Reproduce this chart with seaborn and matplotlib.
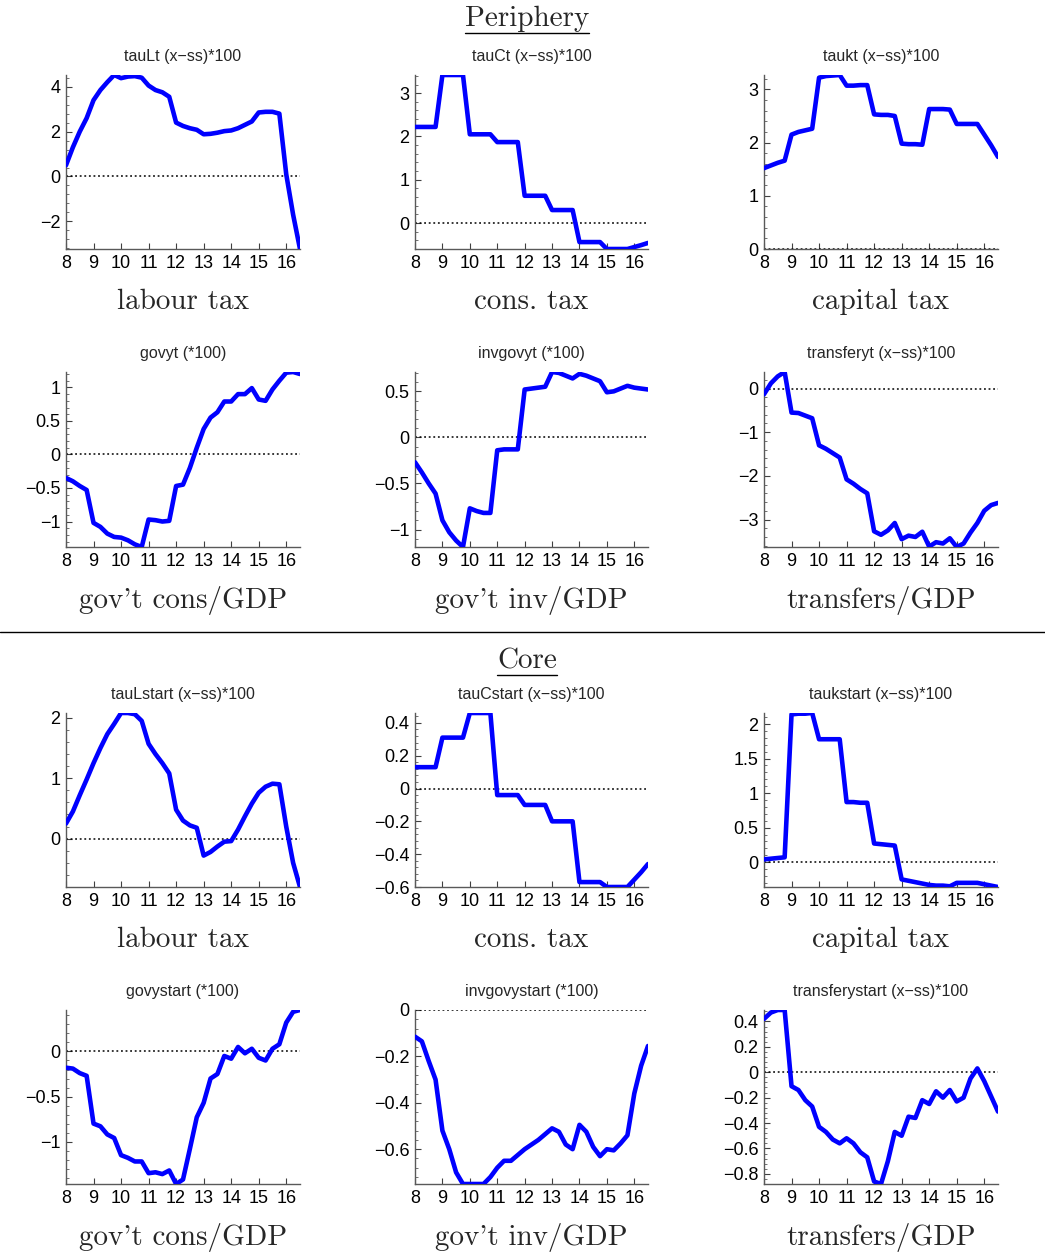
import numpy as np
import pandas as pd
import matplotlib
matplotlib.use("Agg")
import matplotlib.pyplot as plt
import seaborn as sns
from matplotlib.lines import Line2D
from matplotlib.ticker import AutoMinorLocator, FuncFormatter, FixedLocator

# quarterly time axis, 2008 Q1 .. 2016 Q3
quarters = np.arange(8, 16.51, 0.25)

# ---------------- Periphery ----------------
tauLt = [0.5, 1.3, 2.0, 2.6, 3.4, 3.85, 4.2, 4.52, 4.38, 4.45, 4.47, 4.4,
         4.05, 3.85, 3.75, 3.55, 2.4, 2.25, 2.15, 2.08, 1.88, 1.9, 1.95, 2.02,
         2.05, 2.15, 2.3, 2.45, 2.85, 2.88, 2.88, 2.8, 0.1, -1.7, -3.23]
tauCt = [2.22, 2.22, 2.22, 2.22, 3.42, 3.42, 3.42, 3.42, 2.05, 2.05, 2.05, 2.05,
         1.87, 1.87, 1.87, 1.87, 0.63, 0.63, 0.63, 0.63, 0.3, 0.3, 0.3, 0.3,
         -0.44, -0.44, -0.44, -0.44, -0.6, -0.6, -0.6, -0.6, -0.555, -0.51, -0.46]
taukt = [1.52, 1.57, 1.62, 1.66, 2.15, 2.2, 2.23, 2.26, 3.22, 3.25, 3.26, 3.27,
         3.07, 3.07, 3.08, 3.08, 2.53, 2.52, 2.52, 2.5, 1.98, 1.97, 1.97, 1.96,
         2.63, 2.63, 2.63, 2.62, 2.35, 2.35, 2.35, 2.35, 2.15, 1.95, 1.73]
govyt = [-0.35, -0.4, -0.47, -0.53, -1.02, -1.08, -1.18, -1.23, -1.24, -1.28,
         -1.34, -1.38, -0.97, -0.98, -1.0, -0.99, -0.47, -0.45, -0.2, 0.1, 0.38,
         0.55, 0.63, 0.79, 0.79, 0.9, 0.9, 0.99, 0.82, 0.8, 0.97, 1.1, 1.22, 1.23, 1.2]
invgovyt = [-0.27, -0.38, -0.5, -0.61, -0.9, -1.03, -1.12, -1.19, -0.77, -0.8,
            -0.82, -0.82, -0.14, -0.13, -0.13, -0.13, 0.52, 0.53, 0.54, 0.55, 0.71,
            0.7, 0.67, 0.64, 0.69, 0.67, 0.64, 0.61, 0.49, 0.5, 0.53, 0.56, 0.54,
            0.53, 0.52]
transferyt = [-0.13, 0.12, 0.28, 0.38, -0.55, -0.56, -0.62, -0.68, -1.3, -1.38,
              -1.48, -1.58, -2.08, -2.18, -2.3, -2.4, -3.27, -3.35, -3.25, -3.08,
              -3.45, -3.37, -3.4, -3.28, -3.62, -3.52, -3.55, -3.43, -3.63, -3.55,
              -3.3, -3.08, -2.8, -2.67, -2.62]

# ---------------- Core ----------------
tauLstart = [0.25, 0.45, 0.72, 0.98, 1.25, 1.5, 1.73, 1.9, 2.08, 2.08, 2.06, 1.95,
             1.57, 1.4, 1.25, 1.08, 0.48, 0.3, 0.22, 0.18, -0.28, -0.22, -0.13,
             -0.05, -0.04, 0.15, 0.37, 0.58, 0.76, 0.86, 0.91, 0.9, 0.2, -0.4, -0.8]
tauCstart = [0.13, 0.13, 0.13, 0.13, 0.31, 0.31, 0.31, 0.31, 0.46, 0.46, 0.46, 0.46,
             -0.04, -0.04, -0.04, -0.04, -0.1, -0.1, -0.1, -0.1, -0.2, -0.2, -0.2,
             -0.2, -0.57, -0.57, -0.57, -0.57, -0.6, -0.6, -0.6, -0.6, -0.555,
             -0.51, -0.46]
taukstart = [0.04, 0.05, 0.06, 0.07, 2.14, 2.15, 2.15, 2.16, 1.78, 1.78, 1.78, 1.78,
             0.87, 0.87, 0.86, 0.86, 0.27, 0.26, 0.25, 0.24, -0.25, -0.27, -0.29,
             -0.31, -0.33, -0.34, -0.34, -0.35, -0.3, -0.3, -0.3, -0.3, -0.32,
             -0.34, -0.36]
govystart = [-0.18, -0.19, -0.24, -0.27, -0.8, -0.83, -0.92, -0.96, -1.15, -1.18,
             -1.22, -1.22, -1.35, -1.34, -1.36, -1.32, -1.47, -1.42, -1.08, -0.73,
             -0.57, -0.3, -0.25, -0.05, -0.08, 0.05, -0.02, 0.03, -0.07, -0.1, 0.03,
             0.08, 0.32, 0.44, 0.46]
invgovystart = [-0.115, -0.135, -0.22, -0.3, -0.52, -0.6, -0.7, -0.75, -0.75, -0.75,
                -0.75, -0.72, -0.68, -0.65, -0.65, -0.625, -0.6, -0.58, -0.56,
                -0.535, -0.51, -0.525, -0.58, -0.6, -0.495, -0.525, -0.59, -0.63,
                -0.6, -0.605, -0.575, -0.54, -0.36, -0.24, -0.155]
transferystart = [0.42, 0.47, 0.49, 0.49, -0.11, -0.14, -0.22, -0.27, -0.43, -0.47,
                  -0.53, -0.56, -0.52, -0.56, -0.63, -0.67, -0.86, -0.88, -0.7,
                  -0.47, -0.5, -0.35, -0.36, -0.22, -0.25, -0.15, -0.2, -0.14, -0.23,
                  -0.2, -0.05, 0.03, -0.07, -0.19, -0.31]

x_ticks = list(range(8, 17))

panels = [
    ("tauLt (x\u2212ss)*100", "labour tax", tauLt, [-2, 0, 2, 4]),
    ("tauCt (x\u2212ss)*100", "cons. tax", tauCt, [0, 1, 2, 3]),
    ("taukt (x\u2212ss)*100", "capital tax", taukt, [0, 1, 2, 3]),
    ("govyt (*100)", "gov't cons/GDP", govyt, [-1, -0.5, 0, 0.5, 1]),
    ("invgovyt (*100)", "gov't inv/GDP", invgovyt, [-1, -0.5, 0, 0.5]),
    ("transferyt (x\u2212ss)*100", "transfers/GDP", transferyt, [-3, -2, -1, 0]),
    ("tauLstart (x\u2212ss)*100", "labour tax", tauLstart, [0, 1, 2]),
    ("tauCstart (x\u2212ss)*100", "cons. tax", tauCstart, [-0.6, -0.4, -0.2, 0, 0.2, 0.4]),
    ("taukstart (x\u2212ss)*100", "capital tax", taukstart, [0, 0.5, 1, 1.5, 2]),
    ("govystart (*100)", "gov't cons/GDP", govystart, [-1, -0.5, 0]),
    ("invgovystart (*100)", "gov't inv/GDP", invgovystart, [-0.6, -0.4, -0.2, 0]),
    ("transferystart (x\u2212ss)*100", "transfers/GDP", transferystart,
     [-0.8, -0.6, -0.4, -0.2, 0, 0.2, 0.4]),
]

sns.set_theme(style="ticks")
plt.rcParams["font.family"] = ["Liberation Sans", "DejaVu Sans"]
plt.rcParams["axes.unicode_minus"] = True

W, H = 1045, 1253
fig = plt.figure(figsize=(W / 100, H / 100), dpi=100)
fig.patch.set_facecolor("white")

col_left = [66, 415, 764]
col_right = [300, 648, 998]
row_top = [75, 372, 713, 1010]
row_bot = [249, 547, 887, 1184]

serif = ["cmr10", "DejaVu Serif"]


def fmt(v, pos):
    s = "%g" % v
    return s.replace("-", "\u2212")


for i, (title, xlabel, vals, yt) in enumerate(panels):
    r, c = divmod(i, 3)
    l, rgt = col_left[c], col_right[c]
    t, b = row_top[r], row_bot[r]
    ax = fig.add_axes([l / W, 1 - b / H, (rgt - l) / W, (b - t) / H])
    df = pd.DataFrame({"t": quarters, "v": vals})
    ax.axhline(0, color="black", linestyle=(0, (1.2, 1.8)), linewidth=1.1, zorder=1)
    sns.lineplot(data=df, x="t", y="v", ax=ax, color="#0000ff", linewidth=3.3,
                 zorder=3)
    lo = min(min(vals), 0)
    hi = max(max(vals), 0)
    ax.set_xlim(8, 16.5)
    ax.set_ylim(lo, hi)
    ax.xaxis.set_major_locator(FixedLocator(x_ticks))
    ax.yaxis.set_major_locator(FixedLocator(yt))
    ax.yaxis.set_minor_locator(AutoMinorLocator(5))
    ax.yaxis.set_major_formatter(FuncFormatter(fmt))
    ax.xaxis.set_major_formatter(FuncFormatter(fmt))
    ax.tick_params(axis="both", which="major", direction="in", length=4,
                   width=0.8, labelsize=13, colors="0.25", labelcolor="black",
                   pad=4)
    ax.tick_params(axis="y", which="minor", direction="in", length=2, width=0.6,
                   colors="0.35")
    ax.tick_params(axis="x", which="minor", bottom=False)
    for s in ("top", "right"):
        ax.spines[s].set_visible(False)
    for s in ("left", "bottom"):
        ax.spines[s].set_color("0.35")
        ax.spines[s].set_linewidth(1.0)
    ax.set_facecolor("white")
    ax.set_title(title, fontsize=11.5, pad=10)
    ax.set_xlabel(xlabel, family=serif, fontsize=21, labelpad=12)
    ax.set_ylabel("")

# section headings, underlined, and the divider between them
heads = [("Periphery", 19), ("Core", 661)]
texts = []
for label, ypix in heads:
    tx = fig.text(0.5045, 1 - ypix / H, label, family=serif, fontsize=21,
                  ha="center", va="center")
    texts.append(tx)

fig.add_artist(Line2D([0, 1], [1 - 632 / H, 1 - 632 / H], transform=fig.transFigure,
                      color="black", linewidth=1.0))

fig.canvas.draw()
renderer = fig.canvas.get_renderer()
for tx in texts:
    bb = tx.get_window_extent(renderer)
    yline = bb.y0 - 1
    fig.add_artist(Line2D([bb.x0 / W, bb.x1 / W], [yline / H, yline / H],
                          transform=fig.transFigure, color="black", linewidth=1.0))

fig.savefig("out.png", dpi=100, facecolor="white")
